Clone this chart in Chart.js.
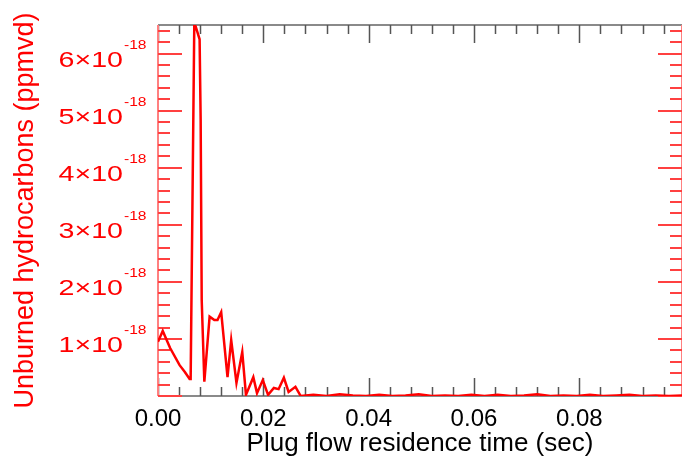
<!DOCTYPE html>
<html>
<head>
<meta charset="utf-8">
<script src="https://cdn.jsdelivr.net/npm/chart.js@4.4.0/dist/chart.umd.min.js"></script>
<style>
  html, body { margin: 0; padding: 0; background: #fff; }
  #wrap { width: 682px; height: 461px; position: relative; }
</style>
</head>
<body>
<div id="wrap"><canvas id="uhcChart"></canvas></div>
<script>
// residence time (sec) and unburned hydrocarbons (ppmvd)
const timeSec = [
  0.0000, 0.0009, 0.0023, 0.0041, 0.0051, 0.0060, 0.0062, 0.0069, 0.0071, 0.0079, 0.0081, 0.0083,
  0.0088, 0.0098, 0.0107, 0.0113, 0.0120, 0.0132, 0.0139, 0.0149, 0.0160, 0.0167, 0.0181, 0.0188,
  0.0199, 0.0209, 0.0220, 0.0229, 0.0239, 0.0248, 0.0261, 0.0271, 0.0295, 0.0320, 0.0345, 0.0370,
  0.0395, 0.0420, 0.0445, 0.0470, 0.0495, 0.0520, 0.0545, 0.0570, 0.0595, 0.0620, 0.0645, 0.0670,
  0.0695, 0.0720, 0.0745, 0.0770, 0.0795, 0.0820, 0.0845, 0.0870, 0.0895, 0.0920, 0.0945, 0.0970, 0.0995
];
const uhcPpmvd = [
  0.95e-18, 1.14e-18, 0.84e-18, 0.54e-18, 0.42e-18, 0.30e-18, 0.30e-18, 6.60e-18, 6.49e-18, 6.25e-18, 4.84e-18, 1.68e-18,
  0.25e-18, 1.39e-18, 1.33e-18, 1.33e-18, 1.47e-18, 0.33e-18, 0.98e-18, 0.23e-18, 0.77e-18, 0.02e-18, 0.33e-18, 0.05e-18,
  0.28e-18, 0.02e-18, 0.14e-18, 0.12e-18, 0.32e-18, 0.07e-18, 0.16e-18, 0.00e-18, 0.02e-18, 0.00e-18, 0.03e-18, 0.01e-18,
  0.00e-18, 0.02e-18, 0.00e-18, 0.01e-18, 0.03e-18, 0.00e-18, 0.01e-18, 0.00e-18, 0.02e-18, 0.00e-18, 0.02e-18, 0.00e-18,
  0.01e-18, 0.03e-18, 0.00e-18, 0.01e-18, 0.00e-18, 0.02e-18, 0.00e-18, 0.01e-18, 0.02e-18, 0.00e-18, 0.01e-18, 0.00e-18, 0.01e-18
];

const xMax = 0.0995;
const yMax = 6.5e-18;
const xMajorStep = 0.02, xMinorStep = 0.004;
const yMajorStep = 1e-18, yMinorStep = 0.2e-18;
const yTickMantissas = [1, 2, 3, 4, 5, 6];
const yTickExponent = '-18';

const RED = '#ff0000';
const FONT = "'Liberation Sans', Arial, Helvetica, sans-serif";

const points = timeSec.map((t, i) => ({ x: t, y: uhcPpmvd[i] }));

function tickRange(step, max) {
  const out = [];
  for (let i = 0; i * step <= max * (1 + 1e-9); i++) out.push(i * step);
  return out;
}

const framePlugin = {
  id: 'frame',
  beforeDatasetsDraw(chart) {
    const { ctx, chartArea: a, scales: { x, y } } = chart;
    ctx.save();
    // top and bottom axes (gray)
    ctx.strokeStyle = '#8a8a8a';
    ctx.lineWidth = 2;
    ctx.beginPath();
    ctx.moveTo(a.left, a.top); ctx.lineTo(a.right, a.top);
    ctx.moveTo(a.left, a.bottom); ctx.lineTo(a.right, a.bottom);
    ctx.stroke();
    ctx.strokeStyle = '#555';
    ctx.lineWidth = 1.5;
    tickRange(xMinorStep, xMax).forEach((v, i) => {
      const px = Math.round(x.getPixelForValue(v)) + 0.5;
      const len = (i % 5 === 0) ? 18 : 9;
      ctx.beginPath();
      ctx.moveTo(px, a.bottom); ctx.lineTo(px, a.bottom - len);
      ctx.moveTo(px, a.top); ctx.lineTo(px, a.top + len);
      ctx.stroke();
    });
    // left and right axes (red)
    ctx.strokeStyle = '#ff8080';
    ctx.lineWidth = 2;
    ctx.beginPath();
    ctx.moveTo(a.left, a.top); ctx.lineTo(a.left, a.bottom);
    ctx.moveTo(a.right, a.top); ctx.lineTo(a.right, a.bottom);
    ctx.stroke();
    ctx.strokeStyle = '#ff4040';
    ctx.lineWidth = 2;
    tickRange(yMinorStep, yMax).forEach((v, i) => {
      const py = Math.round(y.getPixelForValue(v));
      const len = (i % 5 === 0) ? 24 : 12;
      ctx.beginPath();
      ctx.moveTo(a.left, py); ctx.lineTo(a.left + len, py);
      ctx.moveTo(a.right, py); ctx.lineTo(a.right - len, py);
      ctx.stroke();
    });
    ctx.restore();
  },
  afterDraw(chart) {
    const { ctx, chartArea: a, scales: { y } } = chart;
    ctx.save();
    ctx.fillStyle = RED;
    yTickMantissas.forEach(m => {
      const py = y.getPixelForValue(m * yMajorStep);
      // main part, stretched horizontally like the original plot font
      ctx.save();
      ctx.translate(123, py + 13);
      ctx.scale(1.3, 1);
      ctx.font = '22px ' + FONT;
      ctx.textAlign = 'right';
      ctx.fillText(m + '\u00d710', 0, 0);
      ctx.restore();
      ctx.save();
      ctx.translate(124, py - 5);
      ctx.scale(1.3, 1);
      ctx.font = '12px ' + FONT;
      ctx.textAlign = 'left';
      ctx.fillText(yTickExponent, 0, 0);
      ctx.restore();
    });
    // y axis title
    ctx.translate(26, (a.top + a.bottom) / 2);
    ctx.rotate(-Math.PI / 2);
    ctx.font = '27px ' + FONT;
    ctx.textAlign = 'center';
    ctx.textBaseline = 'middle';
    ctx.fillText('Unburned hydrocarbons (ppmvd)', 0, 0);
    ctx.restore();
  }
};

new Chart(document.getElementById('uhcChart'), {
  type: 'line',
  data: {
    datasets: [{
      data: points,
      borderColor: RED,
      borderWidth: 2.5,
      pointRadius: 0,
      tension: 0,
      fill: false
    }]
  },
  options: {
    animation: false,
    responsive: true,
    maintainAspectRatio: false,
    devicePixelRatio: 1,
    layout: { padding: { top: 25, right: -5, left: 0, bottom: 0 } },
    plugins: { legend: { display: false }, tooltip: { enabled: false } },
    scales: {
      x: {
        type: 'linear',
        position: 'bottom',
        min: 0,
        max: xMax,
        afterFit: s => { s.height = 65; },
        grid: { display: false, drawTicks: false },
        border: { display: false },
        ticks: {
          stepSize: xMajorStep,
          includeBounds: false,
          autoSkip: false,
          maxRotation: 0,
          padding: 9,
          color: '#000',
          font: { family: FONT, size: 24 },
          callback: v => Number(v).toFixed(2)
        },
        title: {
          display: true,
          text: 'Plug flow residence time (sec)',
          color: '#000',
          font: { family: FONT, size: 26 },
          padding: { top: 0, bottom: 2 }
        }
      },
      y: {
        type: 'linear',
        position: 'left',
        min: 0,
        max: yMax,
        afterFit: s => { s.width = 158; },
        grid: { display: false, drawTicks: false },
        border: { display: false },
        ticks: { display: false, stepSize: yMajorStep, includeBounds: false }
      }
    }
  },
  plugins: [framePlugin]
});
</script>
</body>
</html>
